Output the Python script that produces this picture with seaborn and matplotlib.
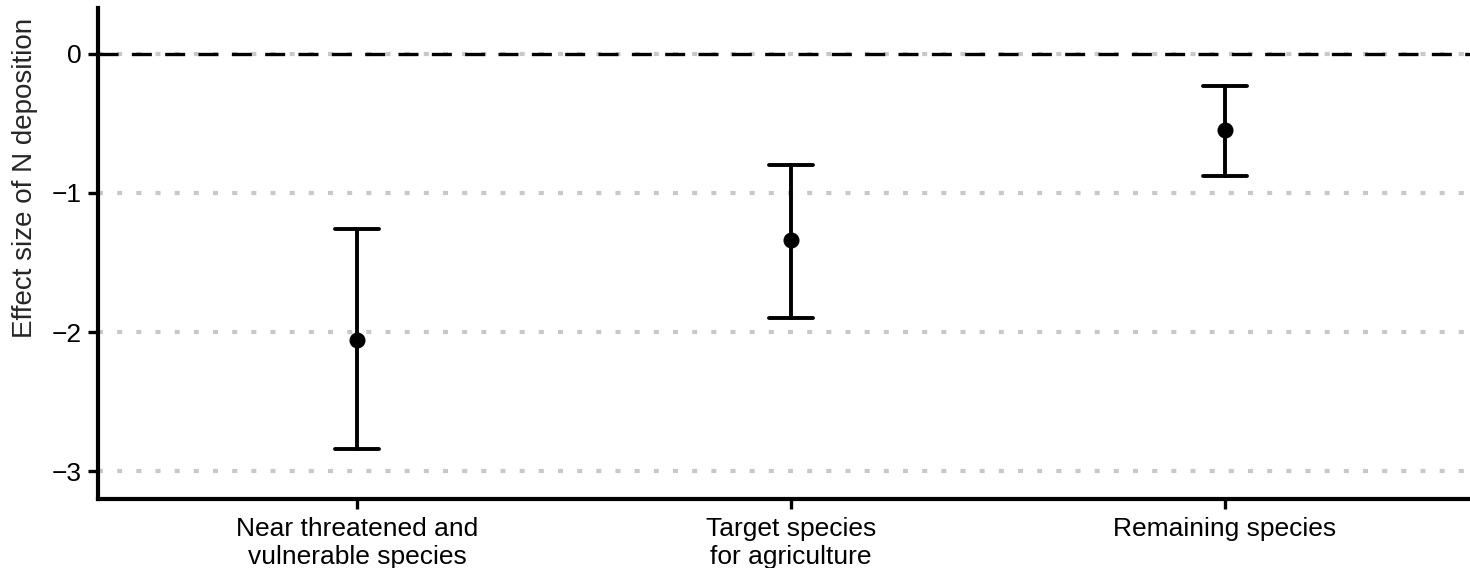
import numpy as np
import pandas as pd
import matplotlib
matplotlib.use("Agg")
import matplotlib.pyplot as plt
import seaborn as sns

#%% Daten
categories = ["Near threatened and\nvulnerable species", "Target species\nfor agriculture", "Remaining species"]
effect = [-2.06, -1.34, -0.55]
ci_low = [-2.84, -1.90, -0.88]
ci_high = [-1.26, -0.80, -0.23]
yticks = [0, -1, -2, -3]

# lang-Format: je Kategorie untere Grenze, Schaetzer, obere Grenze
df = pd.DataFrame({
    "cat": np.repeat(categories, 3),
    "val": np.column_stack([ci_low, effect, ci_high]).ravel(),
})

#%% Plot
sns.set_style("white")
plt.rcParams["font.family"] = ["Liberation Sans", "DejaVu Sans"]

fig = plt.figure(figsize=(14.7, 5.68), dpi=100)
ax = fig.add_axes([0.0667, 0.1215, 0.9333, 0.8645])

ax.yaxis.grid(True, linestyle=(0, (1.2, 3.4)), color="#c8c8c8", linewidth=3)
ax.set_axisbelow(True)
ax.axhline(0, color="black", linewidth=2.4, linestyle=(0, (6, 4)), zorder=1)

# Median von (low, est, high) = est, pi 100 = [low, high]
sns.pointplot(data=df, x="cat", y="val", estimator="median", errorbar=("pi", 100),
              linestyle="none", color="black", capsize=0.1, err_kws={"linewidth": 2.8},
              markersize=9.5, ax=ax)

ax.set_xlim(-0.597, 2.565)
ax.set_ylim(-3.2, 0.33)
ax.set_yticks(yticks)
ax.set_yticklabels(["0", "\u22121", "\u22122", "\u22123"])
ax.set_xlabel("")
ax.set_ylabel("Effect size of N deposition", fontsize=20)
ax.yaxis.set_label_coords(-0.0435, 0.654)
ax.tick_params(axis="both", labelsize=19, length=7, width=2.4, direction="out",
               left=True, bottom=True, colors="black")
ax.tick_params(axis="y", pad=5)
ax.tick_params(axis="x", pad=6)

for s in ["top", "right"]:
    ax.spines[s].set_visible(False)
for s in ["left", "bottom"]:
    ax.spines[s].set_linewidth(3)
    ax.spines[s].set_color("black")

fig.savefig("out.png", dpi=100)
